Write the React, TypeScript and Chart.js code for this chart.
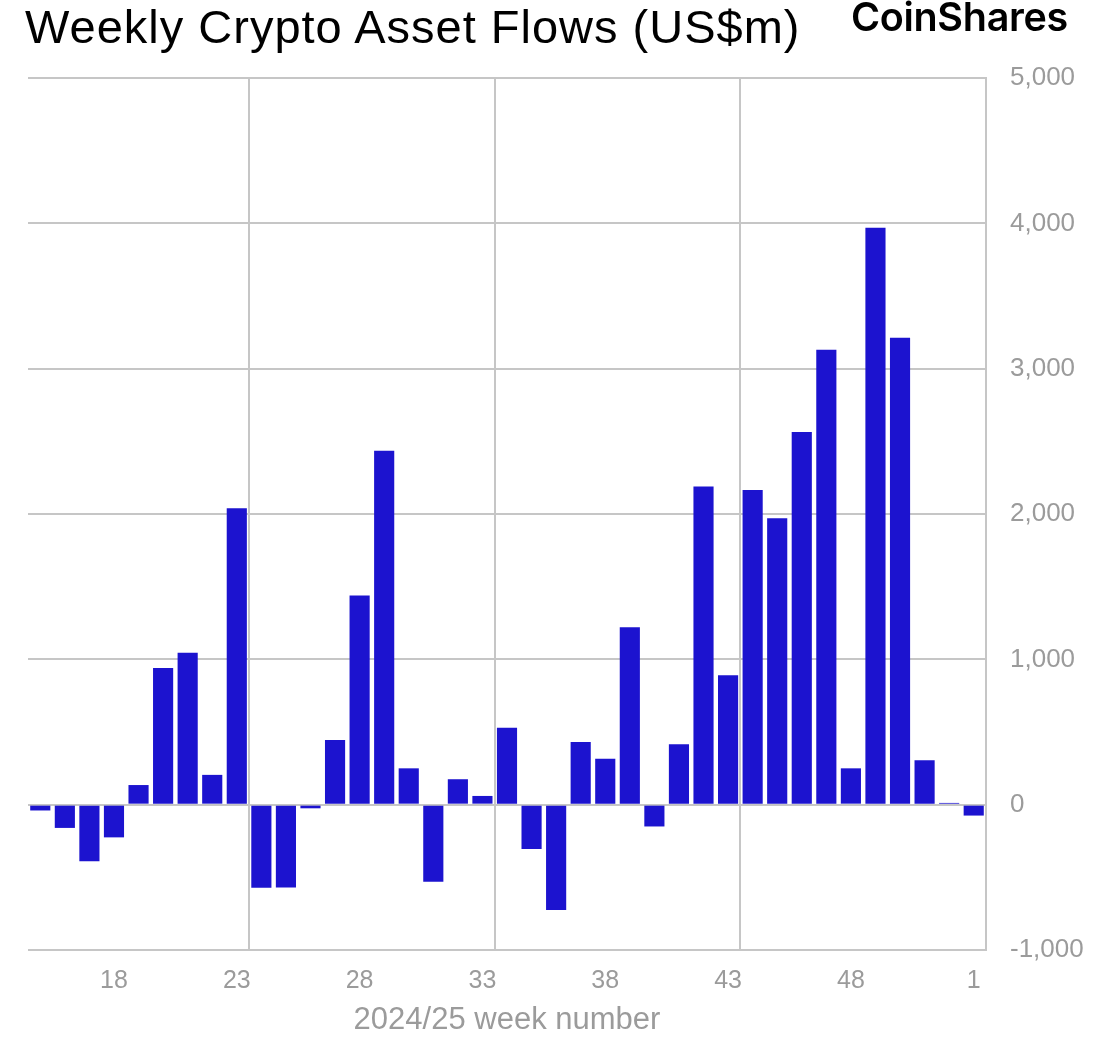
import React, { useEffect, useRef } from "react";
import { Chart, registerables } from "chart.js";

Chart.register(...registerables);

const weeks = [
  "15", "16", "17", "18", "19", "20", "21", "22", "23", "24",
  "25", "26", "27", "28", "29", "30", "31", "32", "33", "34",
  "35", "36", "37", "38", "39", "40", "41", "42", "43", "44",
  "45", "46", "47", "48", "49", "50", "51", "52", "1",
];

const flows = [
  -40, -160, -390, -225, 135, 940, 1045, 205, 2040, -572,
  -570, -25, 445, 1440, 2435, 250, -530, 175, 60, 530,
  -305, -725, 432, 316, 1220, -150, 415, 2190, 890, 2165,
  1970, 2565, 3130, 250, 3970, 3212, 305, 12, -75,
];

const xTickLabels = ["18", "23", "28", "33", "38", "43", "48", "1"];
const xGridAfter = ["23", "33", "43"];
const yTicks = [-1000, 0, 1000, 2000, 3000, 4000, 5000];

const TITLE = "Weekly Crypto Asset Flows (US$m)";
const BRAND = "CoinShares";
const X_TITLE = "2024/25 week number";

const BAR_COLOR = "#1c13cf";
const GRID_COLOR = "#c6c6c6";
const TICK_COLOR = "#9b9b9b";
const FONT = "'Liberation Sans', Arial, sans-serif";

export default function App() {
  const canvasRef = useRef<HTMLCanvasElement | null>(null);

  useEffect(() => {
    const canvas = canvasRef.current;
    if (!canvas) return;
    const gridIdx = xGridAfter.map((w) => weeks.indexOf(w) + 1);
    const chart = new Chart(canvas, {
      type: "bar",
      data: {
        labels: weeks,
        datasets: [
          {
            data: flows,
            backgroundColor: BAR_COLOR,
            borderWidth: 0,
            barPercentage: 0.82,
            categoryPercentage: 1,
          },
        ],
      },
      options: {
        animation: false,
        responsive: false,
        devicePixelRatio: 1,
        layout: { padding: { left: 28, top: 78, right: 0, bottom: 0 } },
        plugins: {
          legend: { display: false },
          tooltip: { enabled: false },
          title: { display: false },
        },
        scales: {
          x: {
            type: "category",
            offset: true,
            grid: {
              offset: true,
              drawTicks: false,
              lineWidth: 2,
              color: (ctx: any) =>
                typeof ctx.index === "number" && gridIdx.includes(ctx.index)
                  ? GRID_COLOR
                  : "rgba(0,0,0,0)",
            },
            border: { display: false },
            ticks: {
              autoSkip: false,
              maxRotation: 0,
              minRotation: 0,
              padding: 16,
              color: TICK_COLOR,
              font: { family: FONT, size: 25 },
              callback: (_v: any, i: number) =>
                xTickLabels.includes(weeks[i]) ? weeks[i] : "",
            },
            title: {
              display: true,
              text: X_TITLE,
              color: TICK_COLOR,
              font: { family: FONT, size: 31, lineHeight: 1.1 },
              padding: { top: 0, bottom: 0 },
            },
            afterFit: (scale: any) => {
              scale.height = 88;
            },
          },
          y: {
            position: "right",
            min: yTicks[0],
            max: yTicks[yTicks.length - 1],
            afterBuildTicks: (scale: any) => {
              scale.ticks = yTicks.map((v) => ({ value: v }));
            },
            grid: {
              drawTicks: false,
              lineWidth: 2,
              color: GRID_COLOR,
            },
            border: { display: true, color: GRID_COLOR, width: 2 },
            ticks: {
              padding: 24,
              color: TICK_COLOR,
              font: { family: FONT, size: 26 },
              callback: (v: any) => Number(v).toLocaleString("en-US"),
            },
            afterFit: (scale: any) => {
              scale.width = 129;
            },
          },
        },
      },
    });
    return () => chart.destroy();
  }, []);

  return (
    <div style={{ position: "absolute", left: 0, top: 0, width: 1115, height: 1038, background: "#fff" }}>
      <canvas ref={canvasRef} width={1115} height={1038} style={{ position: "absolute", left: 0, top: 0 }} />
      <div
        style={{
          position: "absolute",
          left: 25,
          top: 3,
          fontFamily: FONT,
          fontSize: 47,
          lineHeight: 1,
          letterSpacing: 1,
          color: "#000",
          whiteSpace: "nowrap",
        }}
      >
        {TITLE}
      </div>
      <div
        style={{
          position: "absolute",
          right: 47,
          top: -2,
          fontFamily: "Inter, 'Liberation Sans', sans-serif",
          fontWeight: 600,
          fontSize: 39.5,
          lineHeight: 1,
          letterSpacing: -0.3,
          color: "#000",
          whiteSpace: "nowrap",
        }}
      >
        {BRAND}
      </div>
    </div>
  );
}
